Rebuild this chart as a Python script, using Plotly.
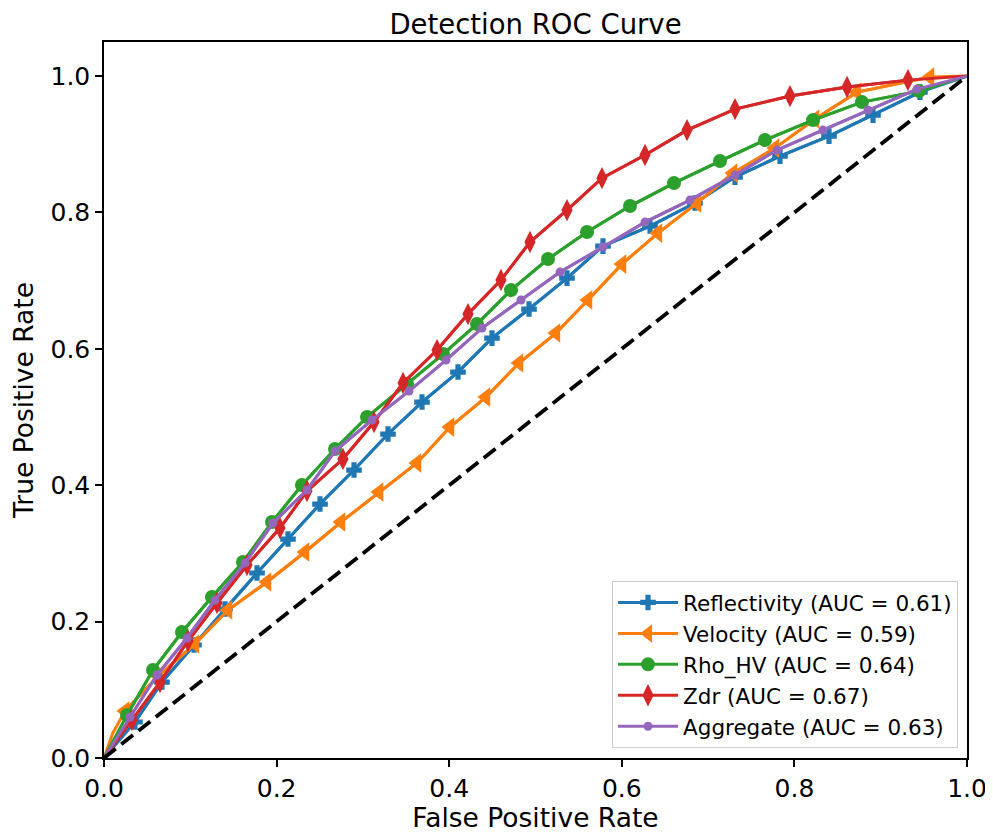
import plotly.graph_objects as go

# ---------------- data ----------------
tick_vals = [0.0, 0.2, 0.4, 0.6, 0.8, 1.0]
tick_text = ["0.0", "0.2", "0.4", "0.6", "0.8", "1.0"]

series_names = ["Reflectivity (AUC = 0.61)", "Velocity (AUC = 0.59)",
                "Rho_HV (AUC = 0.64)", "Zdr (AUC = 0.67)", "Aggregate (AUC = 0.63)"]

refl_fpr = [0.0359, 0.0672, 0.1043, 0.1402, 0.1773, 0.2132, 0.2503, 0.2897, 0.3291, 0.3685, 0.4102,
            0.4496, 0.4925, 0.5365, 0.5782, 0.6327, 0.6848, 0.7312, 0.7833, 0.8401, 0.8911, 0.9455]
refl_tpr = [0.0528, 0.1114, 0.1657, 0.2185, 0.2713, 0.3211, 0.3724, 0.4223, 0.4751, 0.5220, 0.5660,
            0.6158, 0.6584, 0.7038, 0.7507, 0.7801, 0.8138, 0.8519, 0.8827, 0.9120, 0.9428, 0.9765]

vel_fpr = [0.0243, 0.0626, 0.1054, 0.1437, 0.1889, 0.2329, 0.2746, 0.3187, 0.3627, 0.4009, 0.4426,
           0.4809, 0.5237, 0.5608, 0.6002, 0.6419, 0.6871, 0.7289, 0.7775, 0.8239, 0.8725, 0.9571]
vel_tpr = [0.0689, 0.1202, 0.1672, 0.2170, 0.2581, 0.3021, 0.3460, 0.3900, 0.4326, 0.4853, 0.5293,
           0.5792, 0.6232, 0.6716, 0.7243, 0.7698, 0.8138, 0.8578, 0.8944, 0.9370, 0.9765, 0.9985]

rho_fpr = [0.0267, 0.0568, 0.0904, 0.1251, 0.1611, 0.1947, 0.2294, 0.2677, 0.3048, 0.3511, 0.3928,
           0.4322, 0.4716, 0.5145, 0.5597, 0.6095, 0.6605, 0.7138, 0.7659, 0.8216, 0.8783, 0.9444]
rho_tpr = [0.0630, 0.1290, 0.1848, 0.2361, 0.2874, 0.3460, 0.4003, 0.4531, 0.5000, 0.5484, 0.5924,
           0.6364, 0.6862, 0.7317, 0.7713, 0.8094, 0.8431, 0.8754, 0.9062, 0.9355, 0.9619, 0.9780]

zdr_fpr = [0.0324, 0.0649, 0.0973, 0.1309, 0.1657, 0.2039, 0.2352, 0.2769, 0.3129, 0.3465, 0.3859,
           0.4218, 0.4600, 0.4936, 0.5365, 0.5770, 0.6269, 0.6756, 0.7312, 0.7949, 0.8610, 0.9316]
zdr_tpr = [0.0557, 0.1114, 0.1716, 0.2273, 0.2830, 0.3372, 0.3915, 0.4384, 0.4927, 0.5499, 0.5982,
           0.6510, 0.7009, 0.7566, 0.8035, 0.8504, 0.8842, 0.9208, 0.9516, 0.9707, 0.9839, 0.9941]

agg_fpr = [0.0301, 0.0614, 0.0962, 0.1286, 0.1634, 0.1958, 0.2352, 0.2677, 0.3105, 0.3534, 0.3963,
           0.4380, 0.4832, 0.5284, 0.5782, 0.6269, 0.6790, 0.7312, 0.7798, 0.8331, 0.8853, 0.9421]
agg_tpr = [0.0601, 0.1217, 0.1760, 0.2317, 0.2859, 0.3446, 0.3930, 0.4501, 0.4956, 0.5381, 0.5836,
           0.6305, 0.6716, 0.7126, 0.7493, 0.7859, 0.8182, 0.8548, 0.8915, 0.9208, 0.9501, 0.9809]

# early steep rise of the velocity curve near the origin
vel_start_fpr = [0.0, 0.010]
vel_start_tpr = [0.0, 0.036]

chance_fpr = [0.0, 1.0]
chance_tpr = [0.0, 1.0]

# ---------------- styling ----------------
colors = ["#1f77b4", "#ff7f0e", "#2ca02c", "#d62728", "#9467bd"]
symbols = ["cross", "triangle-left", "circle", "diamond-tall", "circle"]
sizes = [13, 17, 14, 16, 9]

data = [
    (refl_fpr, refl_tpr, [0.0], [0.0]),
    (vel_fpr, vel_tpr, vel_start_fpr, vel_start_tpr),
    (rho_fpr, rho_tpr, [0.0], [0.0]),
    (zdr_fpr, zdr_tpr, [0.0], [0.0]),
    (agg_fpr, agg_tpr, [0.0], [0.0]),
]

fig = go.Figure()
for i, (fx, fy, sx, sy) in enumerate(data):
    fig.add_trace(go.Scatter(
        x=sx + fx + [1.0], y=sy + fy + [1.0], mode="lines",
        line=dict(color=colors[i], width=3),
        showlegend=False, hoverinfo="skip", legendgroup=f"g{i}"))
    fig.add_trace(go.Scatter(
        x=fx, y=fy, mode="lines+markers", name=series_names[i],
        line=dict(color=colors[i], width=3),
        marker=dict(symbol=symbols[i], size=sizes[i], color=colors[i], line=dict(width=0)),
        legendgroup=f"g{i}"))

fig.add_trace(go.Scatter(
    x=chance_fpr, y=chance_tpr, mode="lines",
    line=dict(color="black", width=3.8, dash="15px,7px"),
    showlegend=False, hoverinfo="skip"))

axis_common = dict(
    showgrid=False, zeroline=False, showline=True, linecolor="black", linewidth=1.5,
    mirror=True, ticks="outside", ticklen=7, tickwidth=1.5, tickcolor="black",
    tickvals=tick_vals, ticktext=tick_text, tickfont=dict(size=25, color="black"),
    automargin=True,
)

fig.update_xaxes(range=[0, 1],
                 title=dict(text="False Positive Rate", font=dict(size=26.5), standoff=6),
                 **axis_common)
fig.update_yaxes(range=[0, 1.05],
                 title=dict(text="True Positive Rate", font=dict(size=26.5), standoff=9),
                 **axis_common)

# the page adds an 8 px body margin, so the figure is drawn 8 px in from the corner
W, H = 985, 825
fig.update_layout(
    width=W, height=H,
    margin=dict(l=96, r=26, t=34, b=75, autoexpand=False),
    plot_bgcolor="white", paper_bgcolor="white",
    font=dict(family="DejaVu Sans", color="black"),
    title=dict(text="Detection ROC Curve", x=0.5, xref="paper", y=1 - 16 / H,
               yref="container", xanchor="center", yanchor="middle",
               font=dict(size=27.5, color="black")),
    legend=dict(x=0.9896, xanchor="right", y=0.014, yanchor="bottom",
                bordercolor="#cccccc", borderwidth=1, bgcolor="rgba(255,255,255,0.8)",
                font=dict(size=21.5), traceorder="grouped", tracegroupgap=0,
                itemwidth=60),
)

fig.write_html("out.html")
